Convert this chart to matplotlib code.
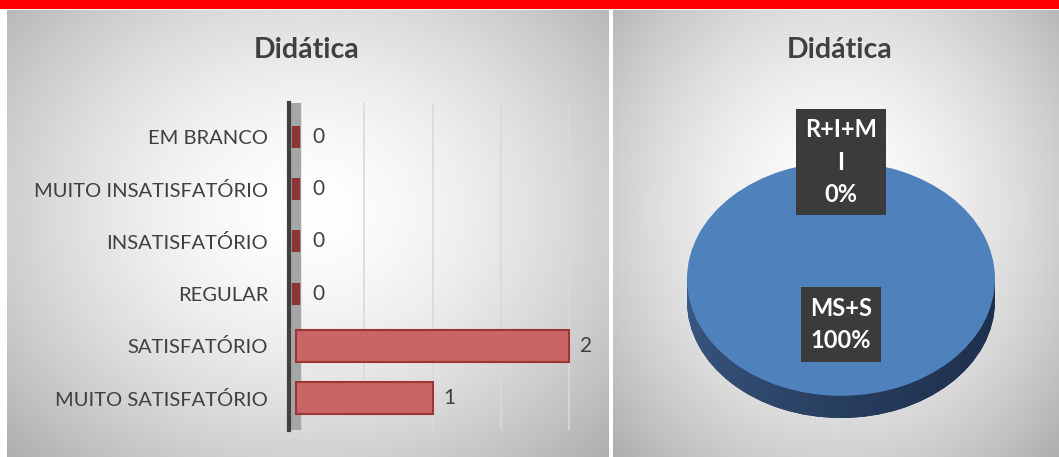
import numpy as np
import matplotlib.pyplot as plt
from matplotlib.patches import Rectangle

plt.rcParams['font.family'] = ['Lato', 'DejaVu Sans']

# data
categorias = ['MUITO SATISFATÓRIO', 'SATISFATÓRIO', 'REGULAR',
              'INSATISFATÓRIO', 'MUITO INSATISFATÓRIO', 'EM BRANCO']
valores = [1, 2, 0, 0, 0, 0]
titulo = 'Didática'

pie_labels = ['MS+S', 'R+I+M\nI']
pie_values = [3, 0]

W, H = 1059, 457
fig = plt.figure(figsize=(W / 100, H / 100), dpi=100)
fig.patch.set_facecolor('white')


def px(x0, y0, x1, y1):
    # pixel box -> figure fraction [l, b, w, h]
    return [x0 / W, 1 - y1 / H, (x1 - x0) / W, (y1 - y0) / H]


def panel(box):
    ax = fig.add_axes(px(*box), zorder=0)
    yy, xx = np.mgrid[-1:1:200j, -1:1:300j]
    r = np.sqrt((xx * 0.9) ** 2 + ((yy + 0.1) * 0.8) ** 2)
    g = 1.0 - 0.22 * np.clip(r, 0, 1.25) ** 1.6
    ax.imshow(np.dstack([g, g, g]), extent=(0, 1, 0, 1), aspect='auto')
    ax.axis('off')
    return ax


# red banner + panels
top = fig.add_axes(px(0, 0, W, 9))
top.set_facecolor('#ff0000')
top.set_xticks([]); top.set_yticks([])
for s in top.spines.values():
    s.set_visible(False)

panel((7, 10, 609, H))
panel((613, 10, W, H))

# ---- bar chart ----
ax = fig.add_axes(px(289, 103, 590, 430), zorder=2)
ax.patch.set_alpha(0)
y = np.arange(len(categorias))
ax.set_xlim(-0.05, 2.15)
ax.set_ylim(-0.61, 5.65)
ax.axvspan(-0.05, 0.03, color='#a6a6a6', zorder=1)
ax.set_xticks([0.5, 1.0, 1.5, 2.0])
ax.grid(axis='x', color='#d9d9d9', lw=1.2, zorder=0)
ax.tick_params(axis='x', length=0, labelbottom=False)
ax.tick_params(axis='y', length=0, pad=15, labelsize=14.5, labelcolor='#404040')
ax.set_yticks(y)
ax.set_yticklabels(categorias)
for s in ['top', 'right', 'bottom']:
    ax.spines[s].set_visible(False)
ax.spines['left'].set_color('#404040')
ax.spines['left'].set_linewidth(3)

bars = ax.barh(y, valores, height=0.6, color='#c96565', edgecolor='#9e3535',
               lw=1.5, zorder=3)
for b, v in zip(bars, valores):
    if v == 0:
        b.set_linewidth(6)
        b.set_edgecolor('#8b3535')
        b.set_height(0.42)
        b.set_y(b.get_y() + 0.09)
    ax.text(b.get_width() + 0.08 + (0.04 if v == 0 else 0),
            b.get_y() + b.get_height() / 2, str(v),
            va='center', ha='left', fontsize=15, color='#404040', zorder=4)

fig.text(307 / W, 1 - 50 / H, titulo, ha='center', va='center',
         fontsize=20.5, fontweight='bold', color='#404040', zorder=5)

# ---- pie chart ----
pax = fig.add_axes(px(687, 162, 995, 418), zorder=2)
pax.axis('off')

depth = 0.19
side = pax.pie(pie_values, radius=1, center=(0, -depth), startangle=90,
               colors=['#233a5e', '#233a5e'], wedgeprops=dict(lw=0))[0]
rect = Rectangle((-1, -depth), 2, depth, color='#233a5e', lw=0)
pax.add_patch(rect)
grad = np.linspace(0, 1, 256)[None, :] ** 0.6
for patch in [side[0], rect]:
    im = pax.imshow(np.dstack([0.23 - 0.11 * grad,
                               0.35 - 0.16 * grad,
                               0.52 - 0.22 * grad]),
                    extent=(-1, 1, -1.3, 0.1), aspect='auto', zorder=1)
    im.set_clip_path(patch)

wedges = pax.pie(pie_values, radius=1, startangle=90,
                 colors=['#4f81bd', '#4f81bd'], wedgeprops=dict(lw=0))[0]
for w in wedges:
    w.set_zorder(2)
pax.set_aspect('auto')
pax.set_xlim(-1, 1)
pax.set_ylim(-1 - depth, 1)

total = sum(pie_values)
dist = [0.39, 1.0]
for w, lab, v, d in zip(wedges, pie_labels, pie_values, dist):
    ang = np.deg2rad((w.theta1 + w.theta2) / 2)
    pax.text(d * np.cos(ang), d * np.sin(ang),
             f'{lab}\n{100 * v / total:.0f}%', ha='center', va='center',
             fontsize=17, fontweight='bold', color='white', linespacing=1.5,
             zorder=5, bbox=dict(boxstyle='square,pad=0.4', fc='#3b3b3b',
                                 ec='none'))

fig.text(840 / W, 1 - 50 / H, titulo, ha='center', va='center',
         fontsize=20.5, fontweight='bold', color='#404040', zorder=5)

fig.savefig('out.png', dpi=100)
